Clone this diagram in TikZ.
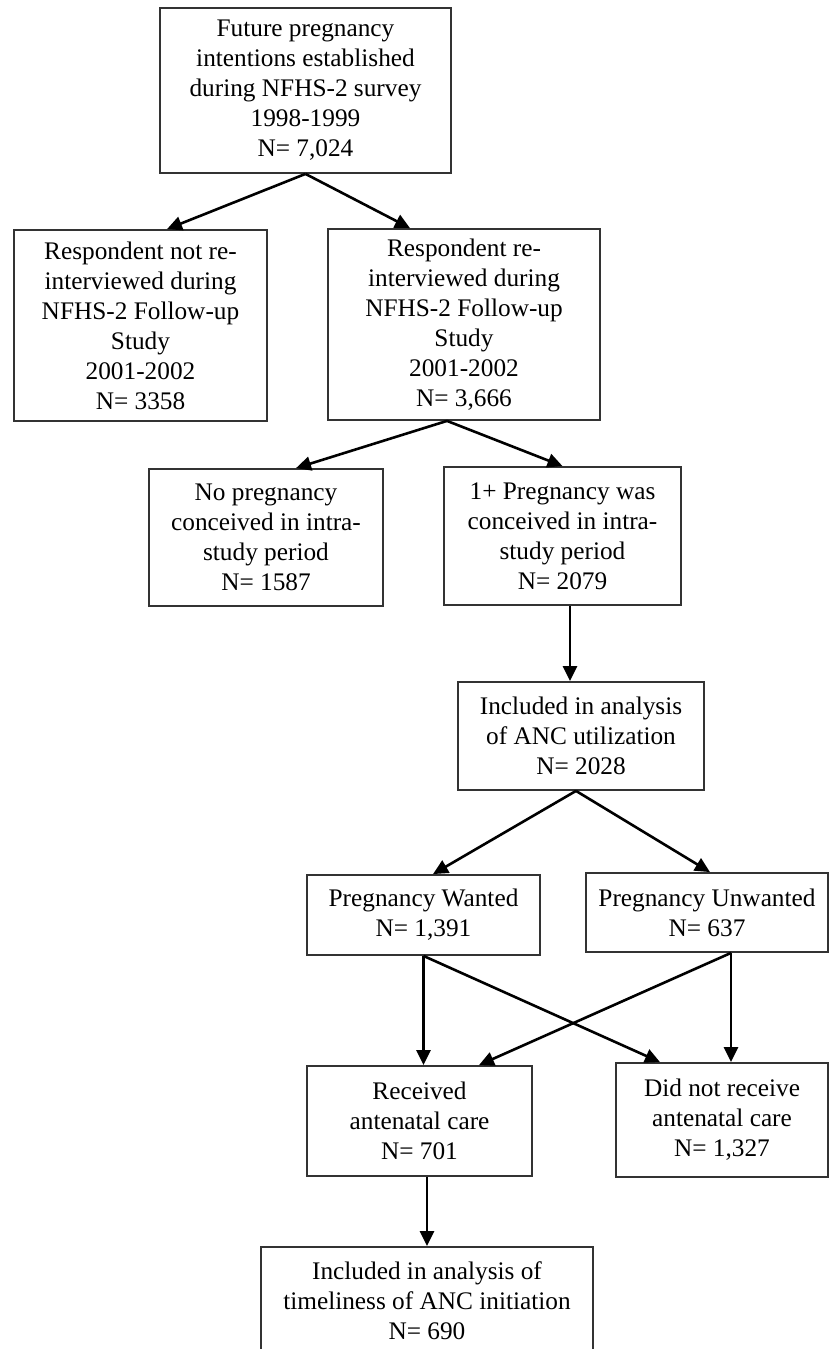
\documentclass[tikz,border=0pt]{standalone}
\usepackage{fontspec}
\setmainfont{Liberation Serif}
\usetikzlibrary{calc,arrows.meta}

\begin{document}
\begin{tikzpicture}[x=1pt,y=-1pt,
  box/.style={draw=black!80, line width=1.8pt, align=center, inner sep=0pt,
    font=\fontsize{25.3}{30}\selectfont},
  arr/.style={-{Triangle[length=15pt,width=14pt]}, line width=2.6pt}]
  \useasboundingbox (0,0) rectangle (830,1349);
  % boxes, from top to bottom
  \node[box, minimum width=291pt, minimum height=165pt] (intent) at (305.5,90.5)
    {Future pregnancy\\intentions established\\during NFHS-2 survey\\1998-1999\\N= 7,024};
  \node[box, minimum width=253pt, minimum height=191pt] (notre) at (140.5,325.5)
    {Respondent not re-\\interviewed during\\NFHS-2 Follow-up\\Study\\2001-2002\\N= 3358};
  \node[box, minimum width=272pt, minimum height=191pt] (re) at (464,324.5)
    {Respondent re-\\interviewed during\\NFHS-2 Follow-up\\Study\\2001-2002\\N= 3,666};
  \node[box, minimum width=234pt, minimum height=137pt] (nopreg) at (266,537.5)
    {No pregnancy\\conceived in intra-\\study period\\N= 1587};
  \node[box, minimum width=237pt, minimum height=138pt] (preg) at (562.5,536)
    {1+ Pregnancy was\\conceived in intra-\\study period\\N= 2079};
  \node[box, minimum width=246pt, minimum height=108pt] (anc) at (581,736)
    {Included in analysis\\of ANC utilization\\N= 2028};
  \node[box, minimum width=233pt, minimum height=80pt] (wanted) at (423.5,915)
    {Pregnancy Wanted\\N= 1,391};
  \node[box, minimum width=242pt, minimum height=79pt] (unwanted) at (707,912.5)
    {Pregnancy Unwanted\\N= 637};
  \node[box, minimum width=225pt, minimum height=110pt] (recv) at (419.5,1121)
    {Received\\antenatal care\\N= 701};
  \node[box, minimum width=212pt, minimum height=114pt] (norecv) at (722,1120)
    {Did not receive\\antenatal care\\N= 1,327};
  \node[box, minimum width=332pt, minimum height=108pt] (timely) at (427,1301)
    {Included in analysis of\\timeliness of ANC initiation\\N= 690};
  % connectors
  \draw[arr] (intent.south) -- ($(notre.north)+(26.5,0)$);
  \draw[arr] (intent.south) -- ($(re.north)+(-54,0)$);
  \draw[arr] ($(re.south)+(-17,0)$) -- ($(nopreg.north)+(30,0)$);
  \draw[arr] ($(re.south)+(-17,0)$) -- (preg.north);
  \draw[arr] ($(preg.south)+(7.5,0)$) -- ($(anc.north)+(-11,0)$);
  \draw[arr] ($(anc.south)+(-5,0)$) -- ($(wanted.north)+(9.5,0)$);
  \draw[arr] ($(anc.south)+(-5,0)$) -- ($(unwanted.north)+(3,0)$);
  \draw[arr] (wanted.south) -- ($(recv.north)+(4,0)$);
  \draw[arr] (wanted.south) -- ($(norecv.north)+(-62,0)$);
  \draw[arr] ($(unwanted.south)+(24,0)$) -- ($(norecv.north)+(9,0)$);
  \draw[arr] ($(unwanted.south)+(24,0)$) -- ($(recv.north)+(59.5,0)$);
  \draw[arr] ($(recv.south)+(7.5,0)$) -- (timely.north);
\end{tikzpicture}
\end{document}
